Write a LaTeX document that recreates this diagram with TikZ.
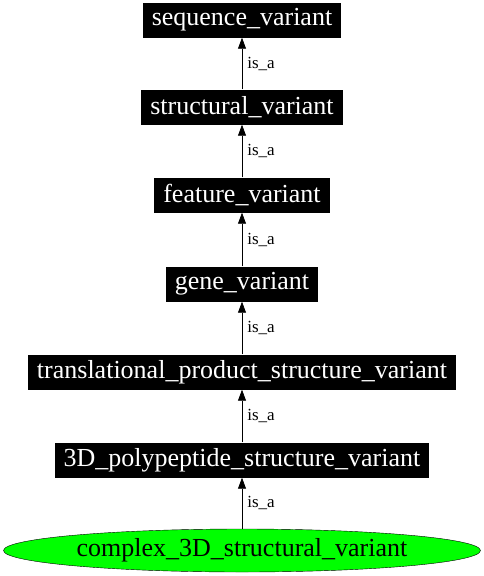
\documentclass[tikz,border=0pt]{standalone}
\usepackage{fontspec}
\setmainfont{Liberation Serif}
\usetikzlibrary{shapes.geometric,arrows.meta}
\begin{document}
\begin{tikzpicture}[x=1pt,y=-1pt,
	term/.style={fill=black,text=white,font=\fontsize{26}{29}\selectfont,inner xsep=9pt,inner ysep=0pt,minimum height=35pt},
	leaf/.style={ellipse,draw=black,fill=green,font=\fontsize{26}{29}\selectfont,inner sep=0pt,minimum width=477pt,minimum height=43pt},
	isa/.style={draw=black,line width=0.7pt,-{Triangle[length=11pt,width=8pt]}},
	lbl/.style={font=\fontsize{17}{20}\selectfont,inner sep=0pt,anchor=west,xshift=5pt}
	]
	\useasboundingbox (0,0) rectangle (484,576);
	\node[term] (a) at (242,20) {sequence\_variant};
	\node[term] (b) at (242,107) {structural\_variant};
	\node[term] (c) at (242,195) {feature\_variant};
	\node[term] (d) at (242,284) {gene\_variant};
	\node[term] (e) at (242,372) {translational\_product\_structure\_variant};
	\node[term] (f) at (242,460) {3D\_polypeptide\_structure\_variant};
	\node[leaf] (g) at (242,550.5) {complex\_3D\_structural\_variant};
	\foreach \lo/\hi in {b/a,c/b,d/c,e/d,f/e,g/f}{
		\draw[isa] (\lo) -- node[lbl] {is\_a} (\hi);
	}
\end{tikzpicture}
\end{document}
